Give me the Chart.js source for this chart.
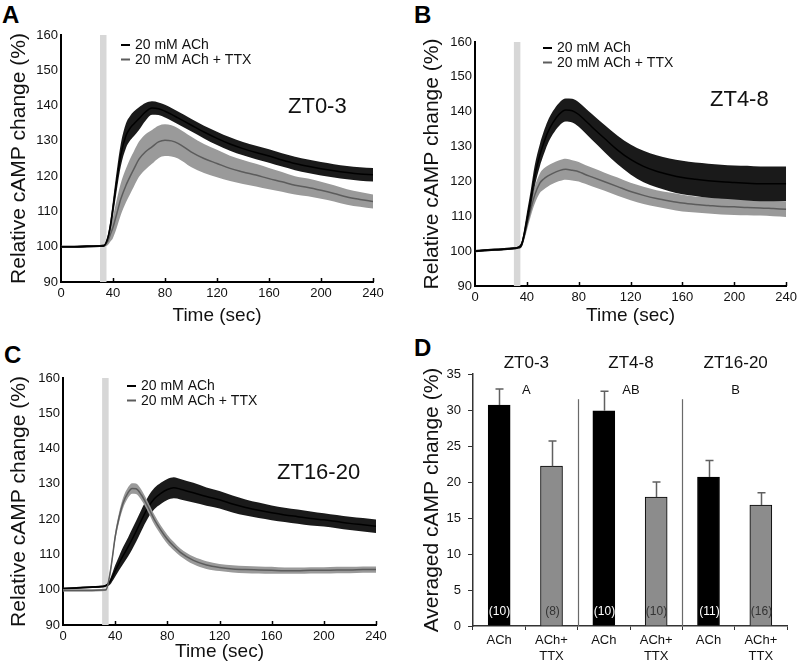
<!DOCTYPE html>
<html>
<head>
<meta charset="utf-8">
<script src="https://cdn.jsdelivr.net/npm/chart.js@4.4.1/dist/chart.umd.min.js"></script>
<style>
  body { margin: 0; background: #fff; width: 801px; height: 664px; position: relative; overflow: hidden; }
  .box { position: absolute; }
  .letter { position: absolute; font: bold 24px "Liberation Sans", Arial, sans-serif; line-height: 24px; color: #000; }
</style>
</head>
<body>
<div class="letter" style="left:2px;top:3px">A</div>
<div class="letter" style="left:414px;top:3px">B</div>
<div class="letter" style="left:4px;top:343px">C</div>
<div class="letter" style="left:414px;top:336px">D</div>

<div class="box" style="left:0;top:0;width:400px;height:330px"><canvas id="cA"></canvas></div>
<div class="box" style="left:400px;top:0;width:401px;height:330px"><canvas id="cB"></canvas></div>
<div class="box" style="left:0;top:330px;width:400px;height:334px"><canvas id="cC"></canvas></div>
<div class="box" style="left:400px;top:330px;width:401px;height:334px"><canvas id="cD"></canvas></div>

<script>
// time points (sec)
const times = [0, 10, 20, 30, 33, 36, 38, 40, 43, 46, 50, 53, 56, 60, 65, 70, 75, 80, 85, 90,
  100, 110, 120, 130, 140, 150, 160, 170, 180, 190, 200, 210, 220, 230, 240];

// ZT0-3
const achMeanA = [100, 100, 100.1, 100.2, 100.3, 102.5, 106, 111, 119, 126, 131.5, 133.5, 134.8, 136.3, 138.2, 139.3, 139.1, 138.4, 137.5, 136.5,
  134.5, 132.5, 130.7, 129.1, 127.8, 126.7, 125.7, 124.6, 123.6, 122.8, 122.1, 121.5, 121, 120.6, 120.4];
const achSemA = [0.3, 0.3, 0.3, 0.3, 0.3, 0.8, 1.5, 2.2, 2.8, 3.2, 3.5, 3.5, 3.5, 3.2, 2.5, 1.9, 1.8, 1.8, 1.8, 1.8,
  1.8, 1.8, 1.9, 1.9, 1.9, 1.9, 1.9, 1.9, 1.9, 1.9, 1.9, 1.9, 1.9, 1.9, 1.9];
const ttxMeanA = [100, 100, 100.1, 100.2, 100.3, 101.5, 103.5, 105.5, 109.5, 113.5, 117.4, 119.8, 122, 124.8, 126.9, 128.3, 129.7, 130.2, 130, 129.3,
  126.9, 125, 123.6, 122.2, 121.2, 120.3, 119.3, 118.4, 117.4, 116.8, 116, 115.1, 114.1, 113.4, 112.8];
const ttxSemA = [0.3, 0.3, 0.3, 0.3, 0.3, 1, 2, 3, 4, 4.5, 4.8, 5, 5, 5, 5, 4.8, 4.6, 4.5, 4.4, 4.3,
  4.3, 4.1, 3.9, 3.6, 3.4, 3.2, 3, 2.8, 2.6, 2.5, 2.4, 2.3, 2.2, 2.1, 2];

// ZT4-8
const achMeanB = [100, 100.3, 100.5, 100.8, 101, 102, 105, 109, 115, 121.5, 127.5, 131, 134, 136.8, 139.3, 140.5, 140.3, 139.2, 137.5, 135.7,
  132.3, 129, 126.3, 124.3, 122.9, 121.9, 121.1, 120.6, 120.2, 119.9, 119.7, 119.5, 119.3, 119.3, 119.3];
const achSemB = [0.3, 0.3, 0.3, 0.3, 0.3, 0.8, 1.5, 2, 2.5, 3, 3.2, 3.3, 3.3, 3.3, 3.3, 3.3, 3.4, 3.5, 3.6, 3.7,
  3.9, 4.1, 4.3, 4.5, 4.6, 4.7, 4.8, 4.8, 4.9, 4.9, 4.9, 5, 5, 5, 5];
const ttxMeanB = [100, 100.3, 100.5, 100.8, 101, 102, 104.5, 107.5, 112, 116, 119.5, 120.7, 121.5, 122.3, 123.1, 123.5, 123.2, 122.8, 122, 121.3,
  119.9, 118.5, 117.1, 116, 115.1, 114.4, 113.8, 113.4, 113.1, 112.8, 112.7, 112.5, 112.4, 112.2, 112];
const ttxSemB = [0.3, 0.3, 0.3, 0.3, 0.3, 0.8, 1.2, 1.6, 2, 2.5, 2.8, 3, 3, 3, 3, 3, 2.9, 2.8, 2.7, 2.7,
  2.6, 2.6, 2.5, 2.5, 2.4, 2.4, 2.4, 2.3, 2.3, 2.3, 2.3, 2.2, 2.2, 2.2, 2.2];

// ZT16-20
const achMeanC = [100.3, 100.5, 100.7, 100.9, 101.2, 102.2, 103.7, 105.3, 107.5, 109.6, 112.2, 114.3, 116.5, 119.6, 123.2, 125.8, 127.3, 128.4, 128.9, 128.5,
  127.5, 126.4, 125.5, 124.3, 123.3, 122.5, 121.8, 121.2, 120.7, 120.2, 119.8, 119.3, 118.8, 118.4, 118];
const achSemC = [0.3, 0.3, 0.3, 0.3, 0.3, 0.8, 1.2, 1.6, 2, 2.4, 2.7, 2.9, 3, 3, 3, 3, 3, 3, 3, 2.9,
  2.8, 2.6, 2.5, 2.4, 2.3, 2.2, 2.1, 2, 2, 2, 1.9, 1.9, 1.9, 1.9, 1.9];
const ttxMeanC = [99.8, 99.8, 99.8, 99.9, 100, 104.5, 109.5, 115, 120.5, 124.5, 127.6, 128.7, 128.6, 126.9, 123.6, 119.9, 116.9, 114.3, 112.3, 110.6,
  108.3, 107, 106.3, 105.9, 105.7, 105.6, 105.5, 105.4, 105.4, 105.5, 105.5, 105.6, 105.6, 105.7, 105.7];
const ttxSemC = [0.3, 0.3, 0.3, 0.3, 0.3, 0.7, 1, 1.2, 1.4, 1.5, 1.5, 1.5, 1.5, 1.5, 1.4, 1.4, 1.3, 1.3, 1.2, 1.1,
  1.1, 1.1, 1, 1, 1, 1, 1, 0.9, 0.9, 0.9, 0.9, 0.9, 0.9, 0.9, 0.9];

const stimWindow = [30, 35];
const legendLabels = ['20 mM ACh', '20 mM ACh + TTX'];

// panel D
const barLabels = ['ACh', ['ACh+', 'TTX'], 'ACh', ['ACh+', 'TTX'], 'ACh', ['ACh+', 'TTX']];
const barMeans = [30.7, 22.2, 29.9, 17.9, 20.7, 16.8];
const barErrs = [2.2, 3.5, 2.7, 2.1, 2.3, 1.7];
const nCounts = ['(10)', '(8)', '(10)', '(10)', '(11)', '(16)'];
const groups = ['ZT0-3', 'ZT4-8', 'ZT16-20'];
const groupLetters = ['A', 'AB', 'B'];

const FONT = '"Liberation Sans", Arial, sans-serif';
Chart.defaults.font.family = FONT;
Chart.defaults.color = '#111';

const BLACK_BAND = '#1a1a1a', BLACK_LINE = '#000';
const GRAY_BAND = '#9a9a9a', GRAY_LINE = '#5c5c5c';

const pts = (m, s, k) => times.map((t, i) => ({ x: t, y: m[i] + k * s[i] }));

function series(mean, sem, band, line) {
  const common = { pointRadius: 0, cubicInterpolationMode: 'monotone', borderWidth: 0 };
  return [
    { ...common, data: pts(mean, sem, 0), borderColor: line, borderWidth: 1.5, fill: false },
    { ...common, data: pts(mean, sem, 1), borderColor: band, backgroundColor: band, fill: '+1' },
    { ...common, data: pts(mean, sem, -1), borderColor: band, fill: false }
  ];
}

const lineDeco = {
  id: 'deco',
  beforeDatasetsDraw(chart, args, o) {
    const { ctx, chartArea: a, scales: { x } } = chart;
    const x0 = x.getPixelForValue(stimWindow[0]), x1 = x.getPixelForValue(stimWindow[1]);
    ctx.save();
    ctx.fillStyle = '#d7d7d7';
    ctx.fillRect(x0, a.top, x1 - x0, a.bottom - a.top);
    ctx.restore();
  },
  afterDraw(chart, args, o) {
    const { ctx, chartArea: a, scales: { x } } = chart;
    ctx.save();
    // inward x ticks
    ctx.strokeStyle = '#000'; ctx.lineWidth = 1.5;
    x.ticks.forEach(t => {
      const px = Math.round(x.getPixelForValue(t.value)) + 0.5;
      if (t.value === 0) return;
      ctx.beginPath(); ctx.moveTo(px, a.bottom); ctx.lineTo(px, a.bottom - 4); ctx.stroke();
    });
    // legend
    ctx.font = '14px ' + FONT;
    ctx.textBaseline = 'middle';
    [BLACK_LINE, GRAY_LINE].forEach((c, i) => {
      const lx = a.left + o.leg[0], ly = a.top + o.leg[1] + i * 14.5;
      ctx.strokeStyle = c; ctx.lineWidth = 2;
      ctx.beginPath(); ctx.moveTo(lx, ly); ctx.lineTo(lx + 9, ly); ctx.stroke();
      ctx.fillStyle = '#111';
      ctx.fillText(legendLabels[i], lx + 14, ly + 0.5);
    });
    // ZT label
    ctx.font = '22px ' + FONT;
    ctx.fillText(o.zt, a.left + o.ztPos[0], a.top + o.ztPos[1]);
    ctx.restore();
  }
};

function lineChart(id, box, plot, datasets, deco, yTitlePad, xTitlePad) {
  new Chart(document.getElementById(id), {
    type: 'line',
    data: { datasets },
    plugins: [lineDeco],
    options: {
      responsive: true, maintainAspectRatio: false, animation: false,
      layout: { padding: { left: 0, bottom: 0, top: plot.t - box.t, right: box.l + box.w - plot.r } },
      plugins: { legend: { display: false }, tooltip: { enabled: false }, deco },
      scales: {
        x: {
          type: 'linear', min: 0, max: 240,
          ticks: { stepSize: 40, font: { size: 13 }, padding: 4, color: '#111' },
          grid: { display: false, drawTicks: false },
          border: { color: '#000', width: 2 },
          title: { display: true, text: 'Time (sec)', font: { size: 19 }, color: '#111', padding: { top: 0, bottom: xTitlePad } },
          afterFit: s => { s.height = box.t + box.h - plot.b; }
        },
        y: {
          min: 90, max: 160,
          ticks: { stepSize: 10, font: { size: 13 }, padding: 3, color: '#111' },
          grid: { display: false, drawTicks: false },
          border: { color: '#000', width: 2 },
          title: { display: true, text: 'Relative cAMP change (%)', font: { size: 21 }, color: '#111', padding: { top: yTitlePad, bottom: 0 } },
          afterFit: s => { s.width = plot.l - box.l; }
        }
      }
    }
  });
}

lineChart('cA', { l: 0, t: 0, w: 400, h: 330 }, { l: 61, t: 35, r: 373, b: 282 },
  [...series(achMeanA, achSemA, BLACK_BAND, BLACK_LINE), ...series(ttxMeanA, ttxSemA, GRAY_BAND, GRAY_LINE)],
  { leg: [60, 10], zt: 'ZT0-3', ztPos: [227, 72] }, 7, 3);

lineChart('cB', { l: 400, t: 0, w: 401, h: 330 }, { l: 475, t: 42, r: 787, b: 286 },
  [...series(achMeanB, achSemB, BLACK_BAND, BLACK_LINE), ...series(ttxMeanB, ttxSemB, GRAY_BAND, GRAY_LINE)],
  { leg: [68, 6], zt: 'ZT4-8', ztPos: [235, 58] }, 20, 3);

lineChart('cC', { l: 0, t: 330, w: 400, h: 334 }, { l: 63, t: 378, r: 376, b: 625 },
  [...series(ttxMeanC, ttxSemC, GRAY_BAND, GRAY_LINE), ...series(achMeanC, achSemC, BLACK_BAND, BLACK_LINE)],
  { leg: [64, 8], zt: 'ZT16-20', ztPos: [214, 95] }, 7, 1);

// panel D
const barDeco = {
  id: 'barDeco',
  afterDraw(chart) {
    const { ctx, chartArea: a, scales: { x, y } } = chart;
    ctx.save();
    barMeans.forEach((m, i) => {
      const px = Math.round(x.getPixelForValue(i)) + 0.5;
      const yb = y.getPixelForValue(m), yt = y.getPixelForValue(m + barErrs[i]);
      ctx.strokeStyle = '#606060'; ctx.lineWidth = 1.5;
      ctx.beginPath(); ctx.moveTo(px, yb); ctx.lineTo(px, yt);
      ctx.moveTo(px - 4, yt); ctx.lineTo(px + 4, yt); ctx.stroke();
      ctx.font = '12px ' + FONT;
      ctx.textAlign = 'center'; ctx.textBaseline = 'middle';
      ctx.fillStyle = i % 2 ? '#333' : '#fff';
      ctx.fillText(nCounts[i], px, y.getPixelForValue(2));
    });
    // separators between groups
    ctx.strokeStyle = '#6a6a6a'; ctx.lineWidth = 1.2;
    for (let g = 1; g < groups.length; g++) {
      const sx = Math.round((x.getPixelForValue(2 * g - 1) + x.getPixelForValue(2 * g)) / 2) + 0.5;
      ctx.beginPath(); ctx.moveTo(sx, y.getPixelForValue(31.5)); ctx.lineTo(sx, a.bottom); ctx.stroke();
    }
    ctx.fillStyle = '#111'; ctx.textAlign = 'center'; ctx.textBaseline = 'middle';
    groups.forEach((g, k) => {
      const gx = (x.getPixelForValue(2 * k) + x.getPixelForValue(2 * k + 1)) / 2;
      ctx.font = '17px ' + FONT;
      ctx.fillText(g, gx + 1, a.top - 11);
      ctx.font = '13px ' + FONT;
      ctx.fillText(groupLetters[k], gx + 1, a.top + 16);
    });
    ctx.restore();
  }
};

const boxD = { l: 400, t: 330, w: 401, h: 334 }, plotD = { l: 473, t: 374, r: 787, b: 626 };
new Chart(document.getElementById('cD'), {
  type: 'bar',
  data: {
    labels: barLabels,
    datasets: [{
      data: barMeans,
      backgroundColor: barMeans.map((v, i) => i % 2 ? '#8c8c8c' : '#000'),
      borderColor: '#000', borderWidth: 1, borderSkipped: 'bottom',
      barThickness: 22
    }]
  },
  plugins: [barDeco],
  options: {
    responsive: true, maintainAspectRatio: false, animation: false,
    layout: { padding: { left: 0, bottom: 0, top: plotD.t - boxD.t, right: boxD.l + boxD.w - plotD.r } },
    plugins: { legend: { display: false }, tooltip: { enabled: false } },
    scales: {
      x: {
        ticks: { font: { size: 13 }, padding: 3, color: '#111', maxRotation: 0 },
        grid: { drawOnChartArea: false, tickLength: 4, color: '#333', offset: true },
        border: { color: '#333', width: 1.5 },
        afterFit: s => { s.height = boxD.t + boxD.h - plotD.b; }
      },
      y: {
        min: 0, max: 35,
        ticks: { stepSize: 5, font: { size: 13 }, padding: 7, color: '#111' },
        grid: { drawOnChartArea: false, tickLength: 5, color: '#333' },
        border: { color: '#333', width: 1.5 },
        title: { display: true, text: 'Averaged cAMP change (%)', font: { size: 21 }, color: '#111', padding: { top: 20, bottom: 0 } },
        afterFit: s => { s.width = plotD.l - boxD.l; }
      }
    }
  }
});
</script>
</body>
</html>
